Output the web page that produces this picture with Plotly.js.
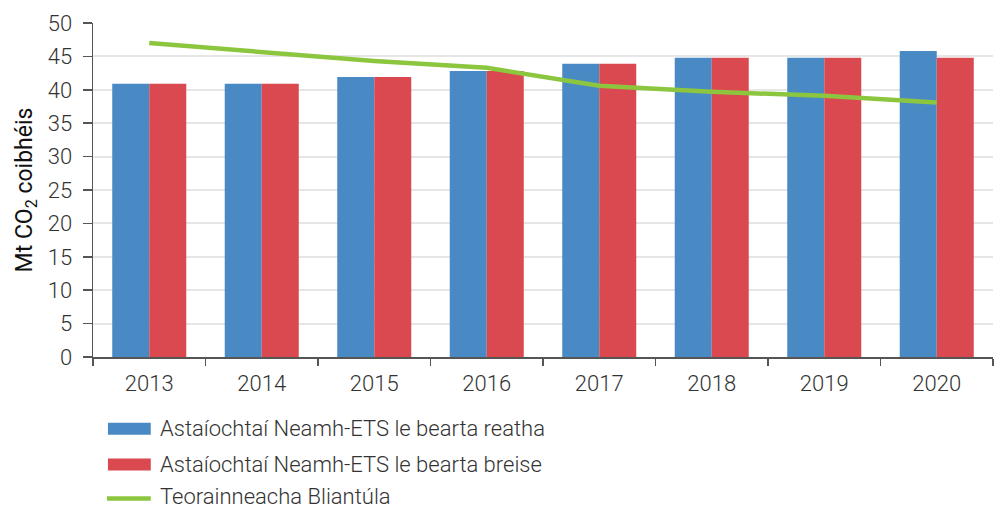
<!DOCTYPE html>
<html>
<head>
<meta charset="utf-8">
<script src="https://cdn.plot.ly/plotly-3.0.1.min.js"></script>
<style>html,body{margin:0;padding:0;background:#fff;}#chart{width:1003px;height:509px;}</style>
</head>
<body>
<div id="chart"></div>
<script>
const years = ['2013','2014','2015','2016','2017','2018','2019','2020'];
const currentMeasures = [40.9, 40.9, 41.9, 42.8, 43.9, 44.8, 44.8, 45.8];
const additionalMeasures = [40.9, 40.9, 41.9, 42.8, 43.9, 44.8, 44.8, 44.8];
const annualLimits = [47.0, 45.6, 44.3, 43.3, 40.6, 39.7, 39.1, 38.1];
const seriesNames = [
  'Astaíochtaí Neamh-ETS le bearta reatha',
  'Astaíochtaí Neamh-ETS le bearta breise',
  'Teorainneacha Bliantúla'
];
const yTitle = 'Mt CO<sub>2</sub> coibhéis';

const blue = '#4a8ac4', red = '#d9494f', green = '#8cc63f';
const font = 'Roboto, "Noto Sans", sans-serif';

const traces = [
  {type:'bar', x:years, y:currentMeasures, name:seriesNames[0], marker:{color:blue}, hoverinfo:'y'},
  {type:'bar', x:years, y:additionalMeasures, name:seriesNames[1], marker:{color:red}, hoverinfo:'y'},
  {type:'scatter', mode:'lines', x:years, y:annualLimits, name:seriesNames[2],
   line:{color:green, width:4.5}, hoverinfo:'y'}
];

// custom legend (positions in paper space)
const legendY = [-0.215, -0.322, -0.417];
const shapes = [
  {type:'rect', xref:'paper', yref:'paper', x0:0.0166, x1:0.0642, y0:legendY[0]-0.018, y1:legendY[0]+0.018, fillcolor:blue, line:{width:0}},
  {type:'rect', xref:'paper', yref:'paper', x0:0.0166, x1:0.0642, y0:legendY[1]-0.018, y1:legendY[1]+0.018, fillcolor:red, line:{width:0}},
  {type:'line', xref:'paper', yref:'paper', x0:0.0155, x1:0.0642, y0:-0.424, y1:-0.424, line:{color:green, width:4.5}}
];
const annotations = seriesNames.map((n,i)=>({
  xref:'paper', yref:'paper', x:0.0730, y:legendY[i], xanchor:'left', yanchor:'middle',
  text:n, showarrow:false, borderpad:0,
  font:{family:font, size:22, color:'#333', weight:300}
}));

const layout = {
  width:1003, height:509,
  margin:{l:93, r:10, t:23, b:152},
  paper_bgcolor:'#fff', plot_bgcolor:'#fff',
  barmode:'group', bargap:0.342, bargroupgap:0,
  showlegend:false,
  font:{family:font, color:'#333', size:22, weight:300},
  xaxis:{
    type:'category', showline:true, linecolor:'#555', linewidth:1.5,
    ticks:'outside', tickson:'boundaries', ticklen:7, tickcolor:'#555', tickwidth:1.5,
    ticklabelstandoff:6,
    tickfont:{family:font, size:22, color:'#333', weight:300}, showgrid:false, zeroline:false,
    fixedrange:true
  },
  yaxis:{
    range:[0,50], dtick:5, tick0:0, showline:true, linecolor:'#555', linewidth:1.5,
    ticks:'outside', ticklen:9, tickcolor:'#555', tickwidth:1.5,
    ticklabelstandoff:6,
    gridcolor:'#e6e6e6', gridwidth:2, zeroline:false,
    tickfont:{family:font, size:22, color:'#333', weight:300},
    title:{text:yTitle, font:{family:font, size:23, color:'#111', weight:400}, standoff:8},
    fixedrange:true
  },
  shapes:shapes,
  annotations:annotations
};

Plotly.newPlot('chart', traces, layout, {displayModeBar:false, staticPlot:true});
</script>
</body>
</html>
